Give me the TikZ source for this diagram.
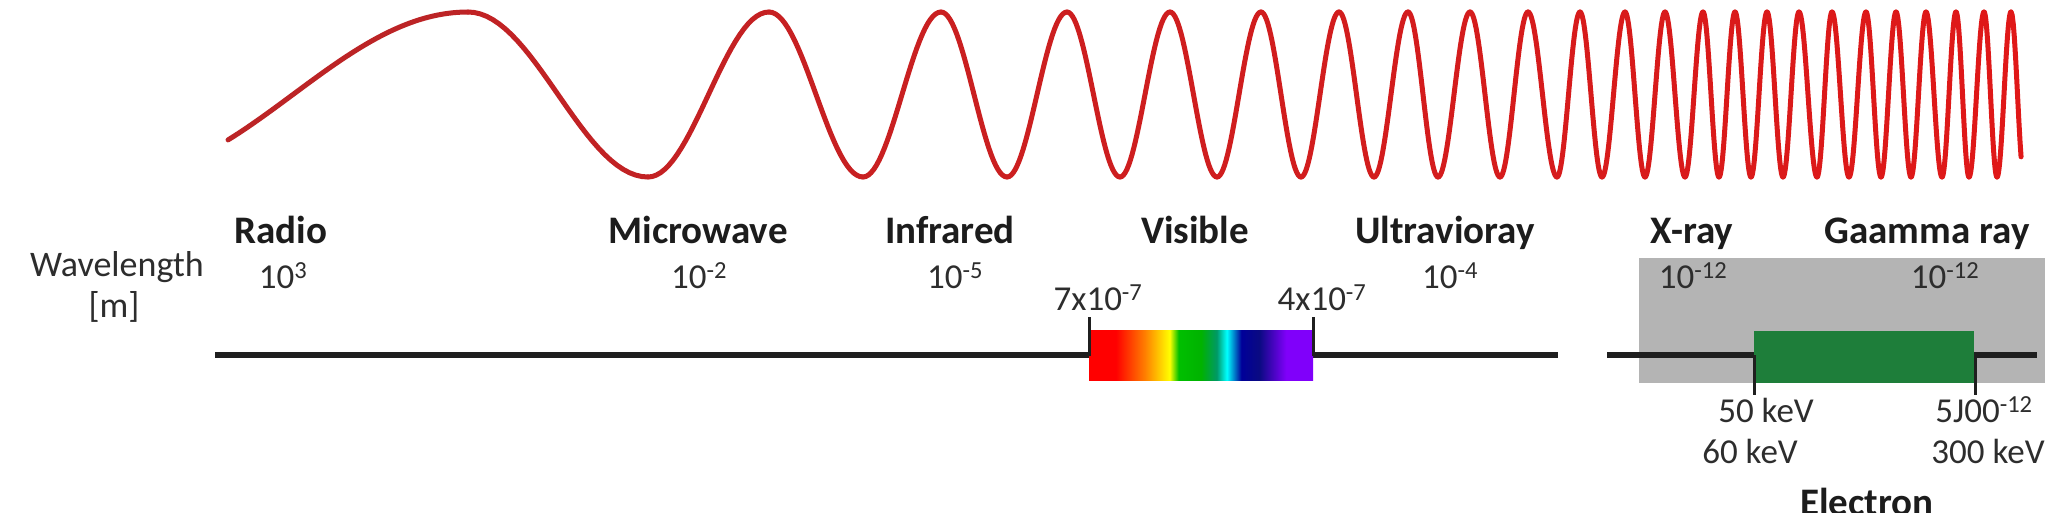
\documentclass[tikz,border=0pt]{standalone}
\usepackage{fontspec}
\setmainfont{Carlito}
\definecolor{wl}{RGB}{188,36,38}
\definecolor{wr}{RGB}{224,24,24}
\definecolor{lblc}{RGB}{28,28,28}
\definecolor{numc}{RGB}{45,45,45}
\definecolor{grayband}{RGB}{180,180,180}
\definecolor{elgreen}{RGB}{30,126,58}
\definecolor{vio}{RGB}{128,0,250}
\definecolor{navy2}{RGB}{10,10,130}
\pgfdeclarehorizontalshading{spectrum}{100bp}{%
  color(0bp)=(red);
  color(25bp)=(red);
  color(31bp)=(red);
  color(37.5bp)=(orange);
  color(43bp)=(yellow);
  color(45bp)=(green!75!black);
  color(50bp)=(green!70!black);
  color(53.5bp)=(teal!80!green);
  color(55.75bp)=(cyan);
  color(59bp)=(blue!60!black);
  color(63bp)=(navy2);
  color(69bp)=(vio);
  color(75bp)=(vio);
  color(100bp)=(vio)}
\begin{document}
\begin{tikzpicture}[x=1pt,y=-1pt,
  lbl/.style={font=\fontsize{39}{42}\selectfont\bfseries, text=lblc, anchor=base, inner sep=0pt},
  num/.style={font=\fontsize{35}{38}\selectfont, text=numc, anchor=base, inner sep=0pt},
  axisline/.style={line width=5.5pt, draw=black!88},
  tickline/.style={line width=3pt, draw=black!88},
  wave/.style={line width=5pt, line cap=round}]
\useasboundingbox (0,0) rectangle (2048,512);
\fill[white] (0,0) rectangle (2048,512);
% wave
\def\yc{94.5}\def\A{82.5}
\draw[wave, wl] plot[domain=56.6:180, samples=50, variable=\t] ({118+\t/180*350},{\yc+\A*cos(\t)});
\foreach \a/\b/\s in {468/648/1, 648/769/-1, 769/863/1, 863/941/-1, 941/1007/1, 1007/1067/-1, 1067/1120/1, 1120/1170/-1, 1170/1217/1, 1217/1261/-1, 1261/1301/1, 1301/1339/-1, 1339/1374/1, 1374/1408/-1, 1408/1438/1, 1438/1470/-1, 1470/1500/1, 1500/1528/-1, 1528/1557/1, 1557/1580/-1, 1580/1602/1, 1602/1625/-1, 1625/1645/1, 1645/1665/-1, 1665/1685/1, 1685/1703/-1, 1703/1719/1, 1719/1735/-1, 1735/1751/1, 1751/1767/-1, 1767/1783/1, 1783/1799/-1, 1799/1817/1, 1817/1832/-1, 1832/1849/1, 1849/1866/-1, 1866/1881/1, 1881/1896/-1, 1896/1911/1, 1911/1926/-1, 1926/1942/1, 1942/1956/-1, 1956/1969/1, 1969/1984/-1, 1984/1997/1, 1997/2011/-1} {
  \pgfmathsetmacro\p{(\a-228)/17.93}
  \draw[wave, color=wr!\p!wl] plot[domain=0:180, samples=30, variable=\t] ({\a+\t/180*(\b-\a)},{\yc-(\s)*\A*cos(\t)});
}
\draw[wave, wr] plot[domain=0:139, samples=10, variable=\t] ({2011+\t/180*13},{\yc-\A*cos(\t)});
% left axis
\coordinate (L1) at (215,355);
\coordinate (L2) at (1558,355);
\draw[axisline] (L1) -- (L2);
\coordinate (vis1) at (1089,330);
\coordinate (vis2) at (1313,380);
\shade[shading=spectrum] (vis1) rectangle (vis2);
\coordinate (t1a) at (1089,317); \coordinate (t1b) at (1089,356);
\coordinate (t2a) at (1313,317); \coordinate (t2b) at (1313,356);
\draw[tickline] (t1a) -- (t1b);
\draw[tickline] (t2a) -- (t2b);
% right part
\coordinate (g1) at (1639,258);
\coordinate (g2) at (2045,383);
\fill[grayband] (g1) rectangle (g2);
\coordinate (R1) at (1607,355);
\coordinate (R2) at (2037,355);
\draw[axisline] (R1) -- (R2);
\coordinate (e1) at (1754,331);
\coordinate (e2) at (1974,383);
\fill[elgreen] (e1) rectangle (e2);
\coordinate (t3a) at (1754,355); \coordinate (t3b) at (1754,395);
\coordinate (t4a) at (1975,355); \coordinate (t4b) at (1975,395);
\draw[tickline] (t3a) -- (t3b);
\draw[tickline] (t4a) -- (t4b);
% texts
\node[num, font=\fontsize{36}{38}\selectfont] (wlen) at (117,276) {Wavelength};
\node[num, font=\fontsize{36}{38}\selectfont] (wunit) at (114,317) {[m]};
\node[lbl] (radio) at (281,243) {Radio};
\node[num] (radion) at (283,288) {10\textsuperscript{3}};
\node[lbl] (micro) at (698,243) {Microwave};
\node[num] (micron) at (699,288) {10\textsuperscript{-2}};
\node[lbl] (infra) at (950,243) {Infrared};
\node[num] (infran) at (955,288) {10\textsuperscript{-5}};
\node[lbl] (vis) at (1195,243) {Visible};
\node[num] (visa) at (1098,310) {7x10\textsuperscript{-7}};
\node[num] (visb) at (1322,310) {4x10\textsuperscript{-7}};
\node[lbl] (uv) at (1445,243) {Ultravioray};
\node[num] (uvn) at (1450,288) {10\textsuperscript{-4}};
\node[lbl] (xray) at (1692,243) {X-ray};
\node[lbl] (gamma) at (1927,243) {Gaamma ray};
\node[num] (xrayn) at (1693,288) {10\textsuperscript{-12}};
\node[num] (gamman) at (1945,288) {10\textsuperscript{-12}};
\node[num] (ea) at (1766,422) {50 keV};
\node[num] (eb) at (1750,463) {60 keV};
\node[num] (ec) at (1984,422) {5J00\textsuperscript{-12}};
\node[num] (ed) at (1988,463) {300 keV};
\node[lbl] (electron) at (1867,515) {Electron};
\end{tikzpicture}
\end{document}
